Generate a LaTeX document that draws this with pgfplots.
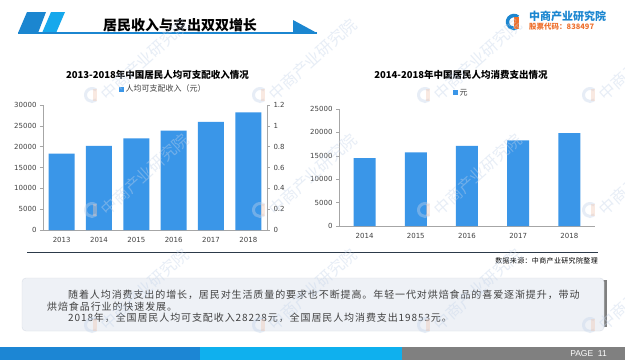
\documentclass[border=0pt]{standalone}
\usepackage{pgfplots}
\pgfplotsset{compat=1.18}
\usepackage{fontspec}
\setmainfont{DejaVu Sans}
\newfontfamily\cjk{Noto Sans CJK SC}
\newfontfamily\cjkbody[LetterSpace=9]{Noto Sans CJK SC}
\newfontfamily\cjksrc[LetterSpace=5]{Noto Sans CJK SC}
\newfontfamily\pagefont{Liberation Sans}
\definecolor{bar}{RGB}{58,150,232}
\definecolor{hblue}{RGB}{27,134,208}
\definecolor{hblue2}{RGB}{22,168,236}
\definecolor{axisgrey}{RGB}{166,166,166}
\definecolor{txt}{RGB}{64,64,64}
\definecolor{boxfill}{RGB}{238,241,246}
\definecolor{boxline}{RGB}{218,222,230}
\definecolor{logoorange}{RGB}{238,112,45}
\definecolor{footblue}{RGB}{28,134,212}
\definecolor{footcyan}{RGB}{15,176,238}
\definecolor{footgrey}{RGB}{128,128,128}
\definecolor{sepline}{RGB}{44,58,74}
\definecolor{wmblue}{RGB}{196,212,234}
\definecolor{wmorange}{RGB}{240,200,180}
\begin{document}
\begin{tikzpicture}[x=1pt,y=1pt]
\useasboundingbox (0,0) rectangle (625,360);
\fill[white] (0,0) rectangle (625,360);

% header
\fill[hblue] (18,327) -- (38,327) -- (46,348) -- (27,348) -- cycle;
\fill[hblue2] (42,327) -- (56,327) -- (65,348) -- (51,348) -- cycle;
\draw[hblue, line width=1.2pt] (18,327) -- (317,327);
\fill[hblue] (293,340) -- (317,327) -- (293,327) -- cycle;
\node[font=\cjk\bfseries\fontsize{14}{16}\selectfont, text=black] at (180,335) {居民收入与支出双双增长};

% logo
\draw[hblue, line width=3.5pt] (514,338) ++(50:6.5) arc (50:310:6.5);
\fill[logoorange] (514,331) rectangle (519,343);
\node[anchor=west, inner sep=0, font=\cjk\bfseries\fontsize{11}{12}\selectfont, text=hblue] at (529,344) {中商产业研究院};
\node[anchor=west, inner sep=0, font=\cjk\bfseries\fontsize{7.5}{9}\selectfont, text=logoorange] at (529,333.5) {股票代码：838497};

% chart titles
\node[font=\cjk\bfseries\fontsize{9.5}{11}\selectfont, text=black] at (157.5,285) {2013-2018年中国居民人均可支配收入情况};
\node[font=\cjk\bfseries\fontsize{9.5}{11}\selectfont, text=black] at (461,285) {2014-2018年中国居民人均消费支出情况};

% left chart
\begin{axis}[at={(43pt,130pt)}, anchor=south west, width=224pt, height=125pt, scale only axis,
  xmin=-0.5, xmax=5.5, ymin=0, ymax=30000,
  axis x line*=bottom, axis y line*=left,
  axis line style={draw=axisgrey, line width=0.6pt},
  xtick={0,1,2,3,4,5}, xticklabels={2013,2014,2015,2016,2017,2018},
  major x tick style={draw=none},
  ytick={0,5000,10000,15000,20000,25000,30000},
  tick align=outside, major tick length=3pt,
  y tick style={draw=axisgrey, line width=0.6pt},
  scaled y ticks=false,
  tick label style={font=\fontsize{7}{8}\selectfont, text=txt},
  xticklabel style={yshift=-1pt},
  /pgf/number format/set thousands separator={},
  /pgf/number format/assume math mode=true,
  legend style={at={(0.536,1.128)}, anchor=center, draw=none, fill=none, font=\cjk\fontsize{8}{9}\selectfont, text=txt, inner sep=0pt},
  legend image code/.code={\fill[bar] (0pt,-2.5pt) rectangle (5pt,2.5pt);},
  ]
\addplot[ybar, bar width=26pt, fill=bar, draw=none] coordinates {(0,18311) (1,20167) (2,21966) (3,23821) (4,25974) (5,28228)};
\addlegendentry{人均可支配收入（元）}
\end{axis}
\begin{axis}[at={(43pt,130pt)}, anchor=south west, width=224pt, height=125pt, scale only axis,
  xmin=-0.5, xmax=5.5, ymin=0, ymax=1.2,
  axis x line=none, axis y line*=right,
  axis line style={draw=axisgrey, line width=0.6pt},
  ytick={0,0.2,0.4,0.6,0.8,1,1.2}, yticklabels={0,0.2,0.4,0.6,0.8,1,1.2},
  tick align=outside, major tick length=3pt,
  y tick style={draw=axisgrey, line width=0.6pt},
  tick label style={font=\fontsize{7}{8}\selectfont, text=txt},
  ]
\addplot[draw=none] coordinates {(0,0)};
\end{axis}

% right chart
\begin{axis}[at={(339pt,134pt)}, anchor=south west, width=256pt, height=117pt, scale only axis,
  xmin=-0.5, xmax=4.5, ymin=0, ymax=25000,
  axis x line*=bottom, axis y line*=left,
  axis line style={draw=axisgrey, line width=0.6pt},
  xtick={0,1,2,3,4}, xticklabels={2014,2015,2016,2017,2018},
  major x tick style={draw=none},
  ytick={0,5000,10000,15000,20000,25000},
  tick align=outside, major tick length=3pt,
  y tick style={draw=axisgrey, line width=0.6pt},
  scaled y ticks=false,
  tick label style={font=\fontsize{7}{8}\selectfont, text=txt},
  xticklabel style={yshift=-1pt},
  /pgf/number format/set thousands separator={},
  /pgf/number format/assume math mode=true,
  legend style={at={(0.477,1.137)}, anchor=center, draw=none, fill=none, font=\cjk\fontsize{8}{9}\selectfont, text=txt, inner sep=0pt},
  legend image code/.code={\fill[bar] (0pt,-2.5pt) rectangle (5pt,2.5pt);},
  ]
\addplot[ybar, bar width=22pt, fill=bar, draw=none] coordinates {(0,14491) (1,15712) (2,17111) (3,18322) (4,19853)};
\addlegendentry{元}
\end{axis}

% separator and source
\draw[sepline, line width=0.8pt] (27,108) -- (598,108);
\node[anchor=east, inner sep=0, font=\cjksrc\fontsize{7}{8}\selectfont, text=black] at (598,99) {数据来源：中商产业研究院整理};

% text box
\fill[black!50] (602,33) rectangle (606.5,80);
\filldraw[fill=boxfill, draw=boxline, rounded corners=4pt] (22,29) rectangle (604,82);
\node[anchor=west, inner sep=0, font=\cjkbody\fontsize{10}{12}\selectfont, text=txt] at (68,65) {随着人均消费支出的增长，居民对生活质量的要求也不断提高。年轻一代对烘焙食品的喜爱逐渐提升，带动};
\node[anchor=west, inner sep=0, font=\cjkbody\fontsize{10}{12}\selectfont, text=txt] at (47,53) {烘焙食品行业的快速发展。};
\node[anchor=west, inner sep=0, font=\cjkbody\fontsize{10}{12}\selectfont, text=txt] at (68,42) {2018年，全国居民人均可支配收入28228元，全国居民人均消费支出19853元。};

% footer
\fill[footblue] (0,0) rectangle (200,13);
\fill[footcyan] (200,0) rectangle (402,13);
\fill[footgrey] (402,0) rectangle (625,13);
\node[anchor=east, inner sep=0, font=\pagefont\fontsize{8.5}{10}\selectfont, text=white] at (607,6) {PAGE\ \ 11};

% watermarks
\begin{scope}[opacity=0.4]
\foreach \wx in {92,260,425,590} {
  \foreach \wy in {265,150,35} {
    \draw[wmblue, line width=3pt] (\wx,\wy) ++(50:6.5) arc (50:310:6.5);
    \fill[wmorange] (\wx+1,\wy-6) rectangle (\wx+5,\wy+6);
    \node[anchor=west, inner sep=0, rotate=42, font=\cjk\fontsize{16}{18}\selectfont, text=wmblue] at (\wx+11,\wy-2) {中商产业研究院};
  }
}
\end{scope}
\end{tikzpicture}
\end{document}
